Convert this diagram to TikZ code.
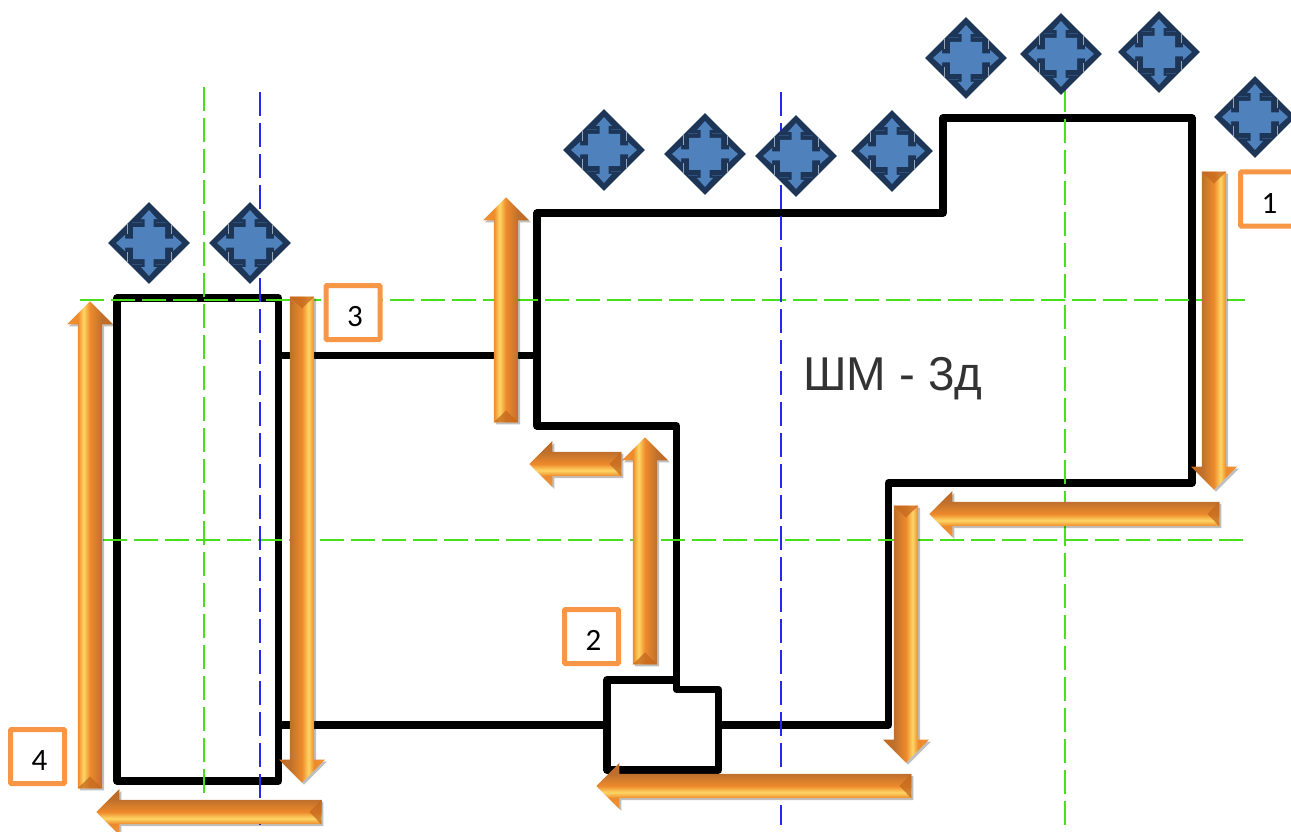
\documentclass[tikz,border=0pt]{standalone}
\usepackage{xcolor}
\usepackage{fontspec}
\usetikzlibrary{shapes.geometric,shapes.arrows,shadows,calc}
\newfontfamily\titlefont{Liberation Sans}
\newfontfamily\numfont{Carlito}
\definecolor{axisgreen}{RGB}{72,224,30}
\definecolor{axisblue}{RGB}{40,40,235}
\definecolor{boxorange}{RGB}{247,150,70}
\definecolor{ventdark}{RGB}{29,54,88}
\definecolor{ventlight}{RGB}{79,129,189}
\definecolor{beveldark}{RGB}{196,104,30}
\definecolor{shaftdark}{RGB}{190,112,44}
\definecolor{shaftmid}{RGB}{238,138,44}
\definecolor{shaftlight}{RGB}{255,214,100}
\definecolor{headmid}{RGB}{240,146,56}
\pgfdeclareverticalshading{blockshade}{100bp}{
  color(0bp)=(beveldark);
  color(25bp)=(beveldark);
  color(37bp)=(shaftdark);
  color(50bp)=(shaftmid);
  color(57bp)=(shaftlight);
  color(63bp)=(shaftmid);
  color(75bp)=(headmid);
  color(100bp)=(headmid)}
\newcommand{\Tailbevel}[1]{\fill[beveldark,opacity=.75] (#1.before tail) -- (#1.after tail) -- ($(#1.tail)!12pt!(#1.center)$) -- cycle;}
\newcommand{\Numtext}[1]{\kern4pt #1}
\tikzstyle{outline}=[line width=7.3pt,line join=round]
\tikzstyle{axisline}=[line width=2.2pt,dash pattern=on 24pt off 7pt]
\tikzstyle{numbox}=[draw=boxorange,fill=white,line width=5pt,minimum width=54pt,minimum height=54pt,rounded corners=1pt,inner sep=0pt,text height=28pt,text depth=0pt,font=\numfont\fontsize{31}{31}\selectfont]
\tikzset{blockarrow/.style 2 args={shape=single arrow,minimum width=46pt,inner xsep=0pt,inner ysep=12pt,
    single arrow head extend=11pt,single arrow tip angle=90,minimum height=#2,anchor=tip,rotate=#1,
    shading=blockshade,shading angle=#1,
    general shadow={shadow xshift=2pt,shadow yshift=-2pt,fill=black,opacity=.25}}}
\tikzset{ventmark/.style={shape=diamond,fill=ventdark,minimum width=82pt,minimum height=82pt,inner sep=0pt,
    path picture={
      \begin{scope}[shift={(path picture bounding box.center)},x=1pt,y=1pt]
        \fill[ventlight] (-16,-16) -- (-4.5,-16) -- (-4.5,-24) -- (-8,-24) -- (0,-33) -- (8,-24) -- (4.5,-24) -- (4.5,-16) -- (16,-16)
          -- (16,-4.5) -- (24,-4.5) -- (24,-8) -- (33,0) -- (24,8) -- (24,4.5) -- (16,4.5) -- (16,16) -- (4.5,16) -- (4.5,24) -- (8,24)
          -- (0,33) -- (-8,24) -- (-4.5,24) -- (-4.5,16) -- (-16,16) -- (-16,4.5) -- (-24,4.5) -- (-24,8) -- (-33,0) -- (-24,-8)
          -- (-24,-4.5) -- (-16,-4.5) -- cycle;
        \draw[white!55!ventdark,line width=.6pt] (-22,-20) -- (-22,-9) (22,-20) -- (22,-9) (-22,20) -- (-22,9) (22,20) -- (22,9);
        \draw[ventlight!35!ventdark,line width=.6pt] (-17,-21) -- (-7,-21) (17,-21) -- (7,-21) (-17,21) -- (-7,21) (17,21) -- (7,21);
      \end{scope}}}}

\begin{document}
\begin{tikzpicture}[x=1pt,y=-1pt]
  \useasboundingbox (0,0) rectangle (1291,832);
  %% Outline
  \draw[outline] (117,298) rectangle (278.5,781);
  \draw[outline] (278,355.5) -- (537,355.5);
  \draw[outline] (278,725) -- (607,725);
  \draw[outline] (676.5,680) -- (676.5,426) -- (537,426) -- (537,213) -- (943,213) -- (943,118) -- (1192,118) -- (1192,483) -- (888.5,483) -- (888.5,725) -- (718.5,725);
  \draw[outline] (607,680) -- (676.5,680) -- (676.5,689.5) -- (718.5,689.5) -- (718.5,770) -- (607,770) -- cycle;

  %% Center lines
  \draw[axisline,axisgreen] (80,300) -- (1245,300);
  \draw[axisline,axisgreen] (103,540) -- (1247,540);
  \draw[axisline,axisgreen] (204,87) -- (204,825);
  \draw[axisline,axisgreen] (1065,88) -- (1065,825);
  \draw[axisline,axisblue] (260,92) -- (260,825);
  \draw[axisline,axisblue] (781,92) -- (781,825);

  %% Arrows
  \draw (1214,490) node[blockarrow={-90}{318pt}] (A1) {};
  \draw (929,514) node[blockarrow={180}{290pt}] (A2) {};
  \draw (906,763) node[blockarrow={-90}{257pt}] (A3) {};
  \draw (596,786) node[blockarrow={180}{315pt}] (A4) {};
  \draw (645,437) node[blockarrow={90}{227pt}] (A5) {};
  \draw (529,464) node[blockarrow={180}{92pt}] (A6) {};
  \draw (506,197) node[blockarrow={90}{225pt}] (A7) {};
  \draw (302,783) node[blockarrow={-90}{486pt}] (A8) {};
  \draw (90,301) node[blockarrow={90}{487pt}] (A9) {};
  \draw (96,812) node[blockarrow={180}{225pt}] (A10) {};
  \Tailbevel{A1} \Tailbevel{A2} \Tailbevel{A3} \Tailbevel{A4} \Tailbevel{A5}
  \Tailbevel{A6} \Tailbevel{A7} \Tailbevel{A8} \Tailbevel{A9} \Tailbevel{A10}

  %% Numbers
  \draw (1267.5,199) node[numbox] (N1) {\Numtext{1}};
  \draw (591.5,636.5) node[numbox] (N2) {\Numtext{2}};
  \draw (353,312.5) node[numbox] (N3) {\Numtext{3}};
  \draw (37.5,756.5) node[numbox] (N4) {\Numtext{4}};

  \draw (893,379) node[text=black!80,font=\titlefont\fontsize{47.5}{47.5}\selectfont] (T1) {ШМ - 3д};

  %% Marks
  \draw (149,243) node[ventmark] (V1) {};
  \draw (250,243) node[ventmark] (V2) {};
  \draw (604,150) node[ventmark] (V3) {};
  \draw (705,154) node[ventmark] (V4) {};
  \draw (796,156) node[ventmark] (V5) {};
  \draw (892,151) node[ventmark] (V6) {};
  \draw (966,58) node[ventmark] (V7) {};
  \draw (1061,54) node[ventmark] (V8) {};
  \draw (1159,52) node[ventmark] (V9) {};
  \draw (1255,117) node[ventmark] (V10) {};
\end{tikzpicture}
\end{document}
